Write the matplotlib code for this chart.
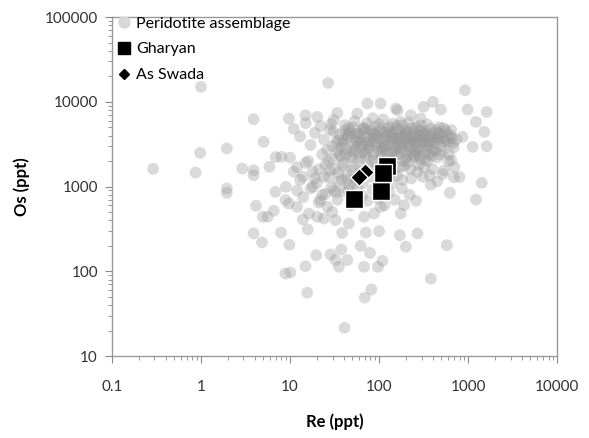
import matplotlib
matplotlib.use("Agg")
import matplotlib.pyplot as plt
from matplotlib import ticker
from matplotlib.lines import Line2D

plt.rcParams['font.family'] = ['Lato', 'DejaVu Sans']

# Peridotite assemblage (Re ppt, Os ppt) - sparse outliers
peri_re = [26.8, 1.0, 920, 3.9, 402, 494, 986, 1614, 1225, 1520, 865, 1614, 1122,
           0.98, 1.95, 5.06, 0.29, 0.87, 1.95, 1.95, 2.91, 3.9, 3.9, 5.86, 8.0,
           6.86, 9.0, 4.15, 4.93, 6.56, 3.9, 4.85, 7.92, 9.84, 8.87, 10.1, 14.9,
           15.6, 19.7, 28.5, 32.4, 35.4, 44, 37.6, 62, 79, 67.6, 97, 109, 82, 69,
           41, 381, 577, 200, 171, 270, 100, 71, 38.5, 15.8, 1225, 1419, 624, 191,
           175, 12, 13.9, 20.2, 24, 32.4, 26.2, 22, 45.8, 67.6, 87.7, 104, 29.8,
           16.3, 9.7, 8.9, 9.7, 14.9, 20.2, 33.9, 73.8, 104, 154, 56.9, 227, 294,
           646, 676, 646, 537, 692, 407, 316, 162, 6.9, 5.6]
peri_os = [16700, 15000, 13700, 6230, 9980, 8110, 8110, 7600, 5800, 4420, 3860, 2990,
           2940, 2500, 2810, 3370, 1620, 1465, 949, 843, 1633, 1560, 1360, 1710,
           2240, 867, 993, 593, 440, 517, 280, 219, 287, 206, 94, 97, 115, 56, 155,
           158, 136, 113, 136, 181, 200, 165, 113, 113, 133, 61, 49, 21.6, 82, 204,
           195, 267, 280, 298, 287, 284, 312, 703, 1107, 843, 604, 481, 577, 409,
           440, 420, 402, 577, 692, 367, 440, 481, 577, 503, 481, 631, 692, 6350,
           6950, 6640, 7400, 9550, 9550, 8340, 7270, 6950, 6350,
           4650, 3240, 2040, 1550, 1290, 2690, 8710, 7940, 2230, 440]

# Peridotite assemblage - dense core
core_re = [11, 13, 15, 17, 19, 22, 24, 26, 28, 31, 33, 36, 38, 41, 44, 47, 50, 53, 56,
           60, 64, 68, 72, 76, 80, 85, 90, 95, 100, 106, 112, 118, 125, 132, 140, 148,
           156, 165, 175, 185, 196, 208, 220, 233, 247, 262, 278, 295, 313, 332, 352,
           373, 395, 420, 445, 472, 500, 530, 560, 600, 640, 690, 740,
           34, 39, 45, 52, 58, 63, 70, 78, 87, 97, 103, 115, 128, 137, 150, 160, 172,
           190, 203, 215, 240, 255, 270, 290, 320, 345, 380, 410, 460, 520,
           10, 12, 14, 16, 18, 20, 23, 25, 27, 30, 32, 35, 37, 40, 43, 46, 49, 52, 55,
           59, 62, 66, 71, 75, 82, 88, 93, 99, 108, 116, 122, 135, 145, 158, 170, 182,
           200, 225, 250, 280, 310, 350, 400, 450, 520, 600, 700, 800, 450, 380,
           12, 14, 17, 21, 25, 29, 34, 40, 48, 57, 65, 74, 85, 98, 115, 130, 150, 180,
           220, 260,
           29, 31, 35, 42, 46, 51, 55, 61, 67, 73, 79, 84, 91, 98, 105, 111, 119, 126,
           134, 142, 151, 161, 171, 183, 194, 207, 218, 231, 245, 259, 275, 292, 309,
           328, 348, 369, 391, 415, 440, 468, 497, 528, 560, 590,
           30, 36, 43, 48, 54, 62, 69, 77, 86, 94, 102, 113, 124, 136, 146, 157, 168,
           180, 192, 205, 223, 238, 252, 268, 286, 305, 325, 340, 365, 390, 430, 480,
           540, 610, 650,
           11, 13, 15, 18, 21, 24, 27, 31, 35, 39, 44, 50, 19, 23, 28, 33, 38, 45, 53,
           60, 130, 160, 190, 230, 270, 320, 370, 140, 210, 290,
           40, 47, 55, 65, 75, 88, 102, 118, 135, 155, 178, 205, 235, 270, 310, 355,
           410, 470, 43, 57, 71, 86, 110, 142, 168, 198, 228, 265, 300, 335,
           42, 62, 83, 125, 185, 245, 330]
core_os = [4800, 3900, 5600, 3100, 4300, 5200, 3600, 2700, 4700, 6100, 3300, 4100, 2900,
           5300, 3700, 4500, 2600, 5900, 3400, 4200, 3000, 5000, 3800, 2700, 4600, 6400,
           3200, 4000, 5400, 2900, 3600, 4400, 3100, 5100, 3900, 2700, 4700, 3400, 5800,
           3000, 4200, 3600, 2600, 4900, 3300, 4100, 2800, 5300, 3700, 4500, 3100, 3900,
           2700, 4300, 3500, 5000, 3000, 3800, 4600, 3300, 4000, 2900, 3600,
           2600, 3500, 4900, 3000, 3900, 2500, 4400, 3100, 3700, 2800, 4800, 3300, 4200,
           2600, 3700, 5200, 2800, 3800, 4600, 3100, 3900, 2600, 4700, 3400, 4000, 2900,
           4800, 3200, 3800, 2600,
           2200, 1700, 1300, 2000, 1500, 1100, 2400, 1800, 1300, 2100, 1600, 1150, 2300,
           1900, 1400, 1050, 2200, 1700, 1250, 2000, 1500, 1100, 2400, 1800, 1300, 2100,
           1600, 1050, 2300, 1900, 1350, 2000, 1500, 2400, 1700, 1200, 2100, 1600, 2300,
           1800, 1300, 2000, 1600, 2200, 1400, 2000, 1700, 1300, 1150, 1050,
           900, 750, 950, 650, 820, 980, 700, 880, 600, 950, 780, 680, 920, 720, 600,
           860, 700, 950, 800, 680,
           5500, 4400, 3500, 4600, 3900, 5000, 4200, 3600, 4800, 5600, 3500, 4300, 5100,
           3800, 4500, 6200, 4000, 4800, 3500, 5500, 4300, 3700, 4600, 5300, 3900, 4400,
           5700, 3700, 4300, 5000, 3900, 4600, 3500, 4200, 5400, 3500, 4100, 3800, 4600,
           3600, 4200, 4900, 3500, 4100,
           3000, 2400, 2800, 2300, 2700, 3300, 2500, 2900, 2400, 3300, 2500, 2800, 2400,
           3200, 2500, 2900, 2400, 3200, 2600, 2300, 2900, 2400, 3200, 2500, 2300, 2800,
           2500, 3400, 2400, 2300, 2700, 2400, 3400, 2400, 3700,
           1500, 1200, 1900, 1000, 1600, 1300, 2000, 900, 1450, 1800, 1200, 1550, 1250,
           800, 1550, 850, 1200, 900, 1100, 1300, 1600, 1350, 1750, 1250, 1500, 1700,
           1350, 1100, 1900, 2100,
           3200, 4300, 3600, 4700, 3300, 4100, 3700, 3000, 4400, 3400, 4000, 3200, 3800,
           3400, 4200, 3300, 3700, 4300, 4000, 3000, 3300, 4200, 2700, 3800, 3100, 4300,
           3500, 3000, 3900, 3400,
           2400, 2200, 2000, 2100, 2000, 2200, 2100]

gharyan_re = [52, 104, 122, 110]
gharyan_os = [710, 880, 1740, 1440]
swada_re = [70, 60]
swada_os = [1480, 1290]

fig = plt.figure(figsize=(5.89, 4.38), dpi=100)
ax = fig.add_axes([0.190, 0.187, 0.756, 0.774])

ax.scatter(peri_re + core_re, peri_os + core_os, s=72, color='#9a9a9a', alpha=0.36,
           edgecolors='none', zorder=2)
ax.scatter(gharyan_re, gharyan_os, marker='s', s=170, color='black',
           edgecolors='white', linewidths=1.0, zorder=4)
ax.scatter(swada_re, swada_os, marker='D', s=80, color='black',
           edgecolors='white', linewidths=1.0, zorder=3)

ax.set_xscale('log')
ax.set_yscale('log')
ax.set_xlim(0.1, 10000)
ax.set_ylim(10, 100000)

fmt = ticker.FuncFormatter(lambda v, p: '%g' % v)
ax.xaxis.set_major_formatter(fmt)
ax.yaxis.set_major_formatter(fmt)
ax.xaxis.set_major_locator(ticker.LogLocator(base=10, numticks=10))
ax.yaxis.set_major_locator(ticker.LogLocator(base=10, numticks=10))
ax.xaxis.set_minor_locator(ticker.LogLocator(base=10, subs=range(2, 10), numticks=10))
ax.yaxis.set_minor_locator(ticker.LogLocator(base=10, subs=range(2, 10), numticks=10))
ax.xaxis.set_minor_formatter(ticker.NullFormatter())
ax.yaxis.set_minor_formatter(ticker.NullFormatter())

ax.tick_params(which='major', direction='out', length=5, color='#888888',
               labelsize=11, labelcolor='#333333')
ax.tick_params(axis='x', which='major', pad=12)
ax.tick_params(axis='y', which='major', pad=5)
ax.tick_params(which='minor', direction='out', length=3, color='#888888')
for sp in ax.spines.values():
    sp.set_color('#999999')
    sp.set_linewidth(1.0)

ax.set_xlabel('Re (ppt)', fontsize=12, fontweight='bold')
ax.set_ylabel('Os (ppt)', fontsize=12, fontweight='bold')
ax.xaxis.set_label_coords(0.5, -0.168)
ax.yaxis.set_label_coords(-0.184, 0.5)

handles = [
    Line2D([], [], marker='o', ls='', color='#d8d8d8', markersize=8),
    Line2D([], [], marker='s', ls='', color='black', markersize=8),
    Line2D([], [], marker='D', ls='', color='black', markersize=5),
]
labels = ['Peridotite assemblage', 'Gharyan', 'As Swada']
ax.legend(handles, labels, loc='upper left', bbox_to_anchor=(-0.017, 1.025),
          frameon=False, fontsize=11.5, handletextpad=0.0, handlelength=1.5,
          labelspacing=0.72, borderpad=0)

fig.savefig('out.png', dpi=100)
